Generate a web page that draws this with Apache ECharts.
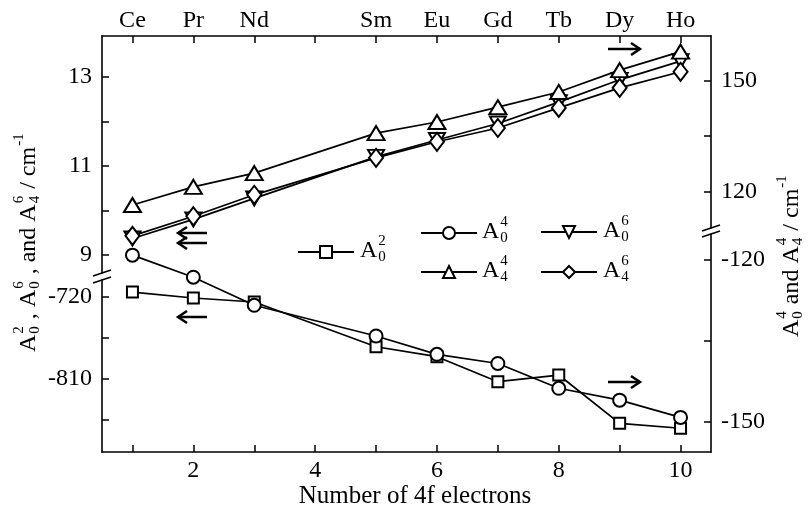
<!DOCTYPE html>
<html>
<head>
<meta charset="utf-8">
<script src="https://cdn.jsdelivr.net/npm/echarts@6/dist/echarts.min.js"></script>
<style>
  html, body { margin: 0; padding: 0; background: #fff; }
  #chart { width: 811px; height: 506px; }
</style>
</head>
<body>
<div id="chart"></div>
<script>
// number of 4f electrons and the ion for each
const electrons = [1, 2, 3, 5, 6, 7, 8, 9, 10];
const ions = ['Ce', 'Pr', 'Nd', 'Sm', 'Eu', 'Gd', 'Tb', 'Dy', 'Ho'];

// crystal field parameters (cm^-1)
const a02 = [-714.9, -721.4, -725.8, -774.8, -785.7, -813.1, -805.8, -858.7, -864.1];
const a04 = [-119.1, -123.2, -128.4, -134.1, -137.5, -139.2, -143.8, -146.0, -149.2];
const a06 = [9.37, 9.80, 10.27, 11.20, 11.58, 11.95, 12.43, 12.93, 13.35];
const a44 = [116.4, 121.3, 125.0, 135.8, 138.8, 142.8, 146.9, 152.8, 157.8];
const a46 = [9.43, 9.87, 10.35, 11.18, 11.54, 11.85, 12.30, 12.75, 13.11];

// tick values
const xTicks = [1, 2, 3, 4, 5, 6, 7, 8, 9, 10];
const xLabels = [2, 4, 6, 8, 10];
const leftUpperTicks = [9, 10, 11, 12, 13];
const leftUpperLabels = [9, 11, 13];
const leftLowerTicks = [-855, -810, -765, -720];
const leftLowerLabels = [-810, -720];
const rightUpperTicks = [120, 135, 150];
const rightUpperLabels = [120, 150];
const rightLowerTicks = [-150, -135, -120];
const rightLowerLabels = [-150, -120];

const FONT = 'Liberation Serif';
const L = 102, W = 609, TOP = 36, BOT = 452;
const leftBreak = [273, 280];
const rightBreak = [228, 234];

const chart = echarts.init(document.getElementById('chart'));

const measure = document.createElement('canvas').getContext('2d');
function textWidth(s, size) {
  measure.font = size + 'px "' + FONT + '"';
  return measure.measureText(s).width;
}

function txt(s, x, y, size) {
  return {
    type: 'text', x: x, y: y,
    style: {
      text: s, fill: '#000', font: size + 'px "' + FONT + '"',
      align: 'left', verticalAlign: 'middle',
      textAlign: 'left', textVerticalAlign: 'middle'
    }
  };
}

// text with stacked super/subscripts, e.g. A_0^2
function mathLabel(parts, x, y, rotation, size) {
  const small = 15;
  const children = [];
  let cx = 0;
  parts.forEach(p => {
    if (p.t) {
      children.push(txt(p.t, cx, 0, size));
      cx += textWidth(p.t, size);
    }
    if (p.sup || p.sub) {
      const sx = cx + 1;
      if (p.sup) children.push(txt(p.sup, sx, -10, small));
      if (p.sub) children.push(txt(p.sub, sx, 6, small));
      cx = sx + Math.max(textWidth(p.sup || '', small), textWidth(p.sub || '', small)) + 1;
    }
  });
  return { type: 'group', x: x, y: y, rotation: rotation, children: children };
}

function arrow(x1, x2, y, dir) {
  const tip = dir < 0 ? x1 : x2;
  return {
    type: 'group',
    children: [
      { type: 'line', shape: { x1: x1, y1: y, x2: x2, y2: y }, style: { stroke: '#000', lineWidth: 2.5 } },
      {
        type: 'polyline',
        shape: { points: [[tip - dir * 9, y - 6], [tip, y], [tip - dir * 9, y + 6]] },
        style: { stroke: '#000', lineWidth: 2.5, fill: null }
      }
    ]
  };
}

function slash(cx, cy) {
  return { type: 'line', shape: { x1: cx - 9, y1: cy + 3, x2: cx + 9, y2: cy - 3 }, style: { stroke: '#000', lineWidth: 1.5 } };
}

function lineSeries(name, values, axis, symbol, size) {
  return {
    name: name,
    type: 'line',
    xAxisIndex: axis,
    yAxisIndex: axis,
    data: electrons.map((x, i) => [x, values[i]]),
    symbol: symbol,
    symbolSize: size,
    showAllSymbol: true,
    clip: false,
    lineStyle: { color: '#000', width: 1.7 },
    itemStyle: { color: '#fff', borderColor: '#000', borderWidth: 2 },
    emphasis: { disabled: true },
    animation: false
  };
}

function legendItem(name, left, y) {
  return {
    data: [name],
    left: left,
    top: y - 7.5,
    padding: 0,
    itemWidth: 56,
    itemHeight: 15,
    selectedMode: false,
    formatter: () => '',
    textStyle: { fontSize: 1 }
  };
}

function grid(top, bottom) {
  return { left: L, width: W, top: top, height: bottom - top, outerBoundsMode: 'none', containLabel: false };
}

const tickStyle = { inside: true, length: 7, lineStyle: { color: '#000', width: 1.5 } };
const labelStyle = { color: '#000', fontFamily: FONT, fontSize: 24 };
const lineStyle = { show: true, onZero: false, lineStyle: { color: '#000', width: 1.6 } };

function yAxis(gridIndex, pos, min, max, ticks, labels) {
  return {
    type: 'value', gridIndex: gridIndex, position: pos, min: min, max: max,
    axisLine: lineStyle,
    axisTick: Object.assign({ customValues: ticks }, tickStyle),
    axisLabel: Object.assign({ customValues: labels, margin: 10 }, labelStyle),
    splitLine: { show: false }
  };
}

const option = {
  backgroundColor: '#fff',
  animation: false,
  grid: [
    grid(TOP, leftBreak[0]),
    grid(leftBreak[1], BOT),
    grid(TOP, rightBreak[0]),
    grid(rightBreak[1], BOT)
  ],
  xAxis: [
    {
      type: 'value', gridIndex: 0, position: 'top', min: 0.5, max: 10.5,
      axisLine: lineStyle,
      axisTick: Object.assign({ customValues: xTicks }, tickStyle),
      axisLabel: Object.assign({
        customValues: electrons, margin: 3,
        formatter: v => ions[electrons.indexOf(v)]
      }, labelStyle),
      splitLine: { show: false }
    },
    {
      type: 'value', gridIndex: 1, position: 'bottom', min: 0.5, max: 10.5,
      name: 'Number of 4f electrons', nameLocation: 'middle', nameGap: 31,
      nameTextStyle: { color: '#000', fontFamily: FONT, fontSize: 25, padding: [0, 0, 0, 17] },
      axisLine: lineStyle,
      axisTick: Object.assign({ customValues: xTicks }, tickStyle),
      axisLabel: Object.assign({ customValues: xLabels, margin: 7 }, labelStyle),
      splitLine: { show: false }
    },
    { type: 'value', gridIndex: 2, min: 0.5, max: 10.5, show: false },
    { type: 'value', gridIndex: 3, min: 0.5, max: 10.5, show: false }
  ],
  yAxis: [
    yAxis(0, 'left', 8.596, 13.913, leftUpperTicks, leftUpperLabels),
    yAxis(1, 'left', -890.1, -701.7, leftLowerTicks, leftLowerLabels),
    yAxis(2, 'right', 110.2, 162.0, rightUpperTicks, rightUpperLabels),
    yAxis(3, 'right', -155.62, -115.18, rightLowerTicks, rightLowerLabels)
  ],
  legend: [
    legendItem('A02', 297, 252),
    legendItem('A04', 420, 233),
    legendItem('A06', 540, 232),
    legendItem('A44', 420, 272),
    legendItem('A46', 540, 272)
  ],
  series: [
    lineSeries('A02', a02, 1, 'rect', 11),
    lineSeries('A06', a06, 0, 'path://M0,0L16,0L8,14Z', [16, 14]),
    lineSeries('A46', a46, 0, 'diamond', [14, 18]),
    lineSeries('A04', a04, 3, 'circle', 13),
    lineSeries('A44', a44, 2, 'triangle', [17, 14])
  ],
  graphic: [
    // axis breaks
    slash(L, leftBreak[0]), slash(L, leftBreak[1]),
    slash(L + W, rightBreak[0]), slash(L + W, rightBreak[1]),
    // arrows pointing to the matching axis
    arrow(178, 207, 233, -1),
    arrow(178, 207, 243, -1),
    arrow(178, 207, 317, -1),
    arrow(608, 640, 49, 1),
    arrow(608, 640, 382, 1),
    // legend labels
    mathLabel([{ t: 'A', sup: '2', sub: '0' }], 360, 251, 0, 24),
    mathLabel([{ t: 'A', sup: '4', sub: '0' }], 482, 232, 0, 24),
    mathLabel([{ t: 'A', sup: '6', sub: '0' }], 603, 231, 0, 24),
    mathLabel([{ t: 'A', sup: '4', sub: '4' }], 482, 271, 0, 24),
    mathLabel([{ t: 'A', sup: '6', sub: '4' }], 603, 271, 0, 24),
    // axis titles
    mathLabel([
      { t: 'A', sup: '2', sub: '0' }, { t: ' , A', sup: '6', sub: '0' },
      { t: ' , and A', sup: '6', sub: '4' }, { t: ' / cm', sup: '-1' }
    ], 29, 352, Math.PI / 2, 24),
    mathLabel([
      { t: 'A', sup: '4', sub: '0' }, { t: ' and A', sup: '4', sub: '4' },
      { t: ' / cm', sup: '-1' }
    ], 792, 337, Math.PI / 2, 24)
  ]
};

chart.setOption(option);
</script>
</body>
</html>
